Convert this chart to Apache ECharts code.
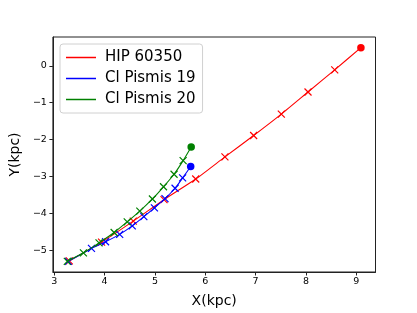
<!DOCTYPE html>
<html><head><meta charset="utf-8">
<script src="https://cdn.jsdelivr.net/npm/echarts@6/dist/echarts.min.js"></script>
<style>html,body{margin:0;padding:0;background:#fff}#c{width:417px;height:313px}</style>
</head><body><div id="c"></div>
<script>
const seriesNames = ['HIP 60350', 'Cl Pismis 19', 'Cl Pismis 20'];
const seriesColors = ['#ff0000', '#0000ff', '#008000'];
const hipX = [3.30, 3.94, 4.57, 5.18, 5.81, 6.39, 6.96, 7.51, 8.04, 8.57, 9.09];
const hipY = [-5.29, -4.78, -4.21, -3.63, -3.07, -2.47, -1.89, -1.31, -0.71, -0.11, 0.49];
const p19X = [3.28, 3.74, 4.02, 4.30, 4.55, 4.78, 4.99, 5.20, 5.40, 5.55, 5.71];
const p19Y = [-5.30, -4.95, -4.77, -4.57, -4.34, -4.09, -3.85, -3.60, -3.32, -3.04, -2.73];
const p20X = [3.26, 3.58, 3.89, 4.19, 4.45, 4.70, 4.95, 5.17, 5.38, 5.56, 5.72];
const p20Y = [-5.30, -5.07, -4.80, -4.52, -4.23, -3.94, -3.61, -3.28, -2.94, -2.57, -2.20];
const xTicks = [3, 4, 5, 6, 7, 8, 9];
const yTicks = [-5, -4, -3, -2, -1, 0];

const fmt = v => (v < 0 ? '\u2212' + Math.abs(v) : String(v));
const xs = [hipX, p19X, p20X], ys = [hipY, p19Y, p20Y];
const crossPath = 'path://M0,0L10,10M10,0L0,10';

const series = seriesNames.map((name, i) => {
  const data = xs[i].map((x, j) => {
    const last = j === xs[i].length - 1;
    return last ? {value: [x, ys[i][j]], symbol: 'circle', symbolSize: 7.5,
                   itemStyle: {color: seriesColors[i], borderWidth: 0}}
                : {value: [x, ys[i][j]]};
  });
  return {
    name, type: 'line', data, smooth: 0.2,
    symbol: crossPath, symbolSize: 7, symbolKeepAspect: true,
    itemStyle: {color: seriesColors[i], borderColor: seriesColors[i], borderWidth: 1.2},
    lineStyle: {color: seriesColors[i], width: 1.1},
    z: 2 + i, animation: false
  };
});

const chart = echarts.init(document.getElementById('c'), null, {renderer: 'canvas'});
chart.setOption({
  animation: false,
  backgroundColor: '#fff',
  grid: {left: 52, top: 37, right: 41.5, bottom: 35, show: true, borderColor: '#222', borderWidth: 1, backgroundColor: 'transparent'},
  legend: {
    orient: 'vertical', left: 60, top: 44, padding: [6, 7, 6, 6],
    itemWidth: 30, itemHeight: 1.5, itemGap: 6, icon: 'rect',
    borderColor: '#d0d0d0', borderWidth: 1, borderRadius: 3, backgroundColor: '#fff',
    textStyle: {fontFamily: 'DejaVu Sans', fontSize: 15, color: '#000', padding: [0, 0, 0, 4]},
    data: seriesNames.map((n, i) => ({name: n, itemStyle: {color: seriesColors[i], borderWidth: 0}}))
  },
  xAxis: {
    type: 'value', min: 2.974, max: 9.38,
    name: 'X(kpc)', nameLocation: 'middle', nameGap: 22,
    nameTextStyle: {fontFamily: 'DejaVu Sans', fontSize: 14, color: '#000'},
    splitLine: {show: false},
    axisLine: {show: true, onZero: false, lineStyle: {color: '#222', width: 1}},
    axisTick: {show: true, length: 3.5, customValues: xTicks, lineStyle: {color: '#222'}},
    axisLabel: {customValues: xTicks, formatter: fmt, fontFamily: 'DejaVu Sans', fontSize: 9.5, color: '#000', margin: 5}
  },
  yAxis: {
    type: 'value', min: -5.59, max: 0.78,
    name: 'Y(kpc)', nameLocation: 'middle', nameGap: 27,
    nameTextStyle: {fontFamily: 'DejaVu Sans', fontSize: 14, color: '#000'},
    splitLine: {show: false},
    axisLine: {show: true, onZero: false, lineStyle: {color: '#222', width: 1}},
    axisTick: {show: true, length: 3.5, customValues: yTicks, lineStyle: {color: '#222'}},
    axisLabel: {customValues: yTicks, formatter: fmt, fontFamily: 'DejaVu Sans', fontSize: 9.5, color: '#000', margin: 6}
  },
  series
});
</script></body></html>
